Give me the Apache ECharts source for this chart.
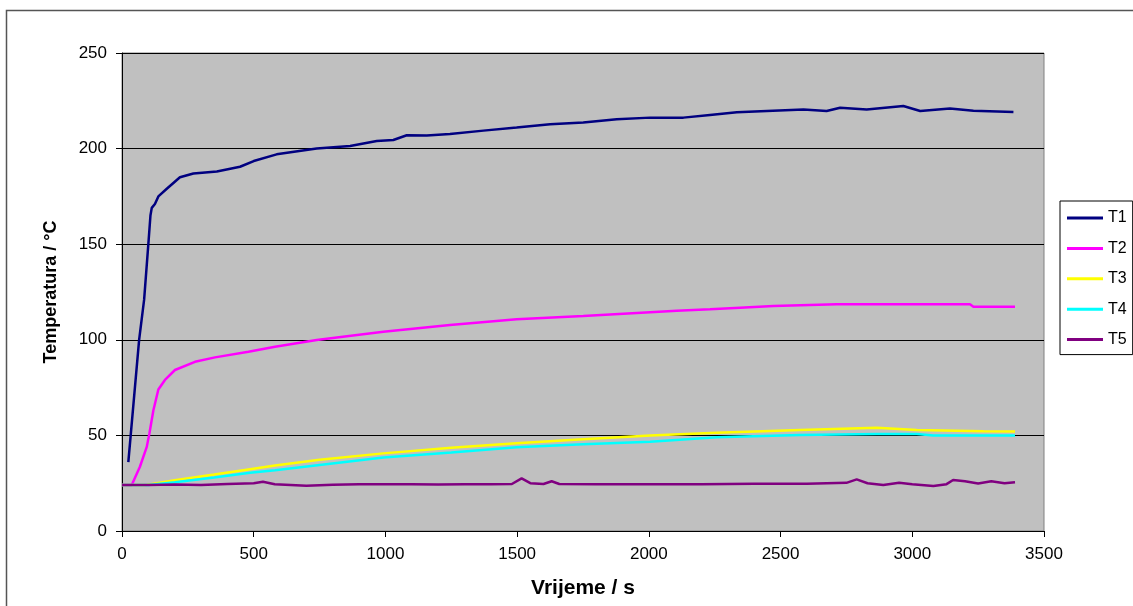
<!DOCTYPE html>
<html>
<head>
<meta charset="utf-8">
<script src="https://cdn.jsdelivr.net/npm/echarts@6/dist/echarts.min.js"></script>
<style>
html,body{margin:0;padding:0;background:#fff;}
#c{width:1133px;height:606px;}
</style>
</head>
<body>
<div id="c"></div>
<script>
var seriesNames = ['T1', 'T2', 'T3', 'T4', 'T5'];
var xTicks = [0, 500, 1000, 1500, 2000, 2500, 3000, 3500];
var yTicks = [0, 50, 100, 150, 200, 250];

var t1Time = [24, 33, 65, 84, 100, 108, 113, 125, 138, 170, 220, 271, 360, 448, 500, 587, 739, 866, 967, 1030, 1081, 1157, 1245, 1372, 1498, 1625, 1751, 1878, 2005, 2131, 2232, 2334, 2448, 2587, 2675, 2726, 2827, 2966, 3030, 3143, 3232, 3384];
var t1Temp = [36, 50, 100, 121, 150, 165, 169, 171, 175, 179, 185, 187, 188, 190.5, 193.5, 197, 200, 201.4, 204, 204.5, 207, 206.8, 207.6, 209.4, 211, 212.7, 213.6, 215.3, 216.2, 216.2, 217.6, 219, 219.7, 220.5, 219.7, 221.4, 220.5, 222.3, 219.7, 221, 219.8, 219.1];

var t2Time = [0, 37, 68, 94, 104, 119, 138, 163, 201, 277, 353, 480, 581, 739, 992, 1245, 1498, 1751, 2005, 2106, 2232, 2346, 2473, 2713, 3219, 3232, 3390];
var t2Temp = [24, 24, 33.6, 44, 51, 63, 74, 79, 84.2, 88.5, 90.8, 93.8, 96.4, 99.9, 104.2, 107.7, 110.7, 112.4, 114.4, 115.2, 116, 116.8, 117.7, 118.6, 118.6, 117.3, 117.3];

var t3Time = [0, 87, 200, 350, 486, 581, 750, 992, 1250, 1498, 1750, 2005, 2258, 2574, 2865, 3017, 3270, 3390];
var t3Temp = [24, 24, 26.5, 29.5, 32.3, 34.2, 37.3, 40.6, 43.5, 45.9, 48, 50, 51.4, 52.8, 54, 52.8, 52.2, 52];

var t4Time = [0, 100, 200, 350, 486, 581, 750, 992, 1250, 1498, 1750, 2005, 2258, 2574, 2865, 3017, 3080, 3390];
var t4Temp = [24, 24, 25.5, 28, 30.5, 31.8, 34.5, 38.4, 41, 43.8, 45.4, 46.7, 49, 50.2, 50.7, 50.7, 49.9, 49.9];

var t5Time = [0, 100, 200, 300, 400, 500, 535, 580, 700, 800, 900, 1000, 1100, 1200, 1300, 1400, 1480, 1517, 1550, 1600, 1631, 1660, 1800, 2000, 2200, 2400, 2600, 2750, 2789, 2830, 2890, 2950, 3000, 3080, 3130, 3155, 3200, 3250, 3300, 3350, 3390];
var t5Temp = [24, 24, 24.3, 24.1, 24.6, 25, 25.8, 24.5, 23.7, 24.2, 24.4, 24.5, 24.5, 24.3, 24.5, 24.5, 24.6, 27.5, 25, 24.6, 26, 24.6, 24.5, 24.5, 24.5, 24.7, 24.7, 25.2, 27, 25, 24, 25.2, 24.5, 23.5, 24.5, 26.7, 26, 24.8, 26, 25, 25.5];

var times = [t1Time, t2Time, t3Time, t4Time, t5Time];
var temps = [t1Temp, t2Temp, t3Temp, t4Temp, t5Temp];
var colors = ['#000080', '#ff00ff', '#ffff00', '#00ffff', '#800080'];

function zip(a, b) { return a.map(function (v, i) { return [v, b[i]]; }); }

var chart = echarts.init(document.getElementById('c'), null, { renderer: 'canvas' });
var font = 'Arial, "Liberation Sans", sans-serif';

chart.setOption({
  backgroundColor: '#ffffff',
  animation: false,
  color: colors,
  graphic: [{
    type: 'rect',
    shape: { x: 6.5, y: 10.5, width: 1300, height: 800 },
    style: { fill: null, stroke: '#555555', lineWidth: 1.5 },
    silent: true
  }],
  grid: {
    left: 122, top: 53, right: 89, bottom: 75,
    show: true, backgroundColor: '#c0c0c0', borderColor: '#808080', borderWidth: 1
  },
  legend: {
    orient: 'vertical',
    left: 1060, top: 201,
    data: seriesNames,
    icon: 'rect',
    itemWidth: 36, itemHeight: 3,
    itemGap: 14.4,
    padding: [9, 6, 7, 7],
    backgroundColor: '#ffffff',
    borderColor: '#000000', borderWidth: 1,
    textStyle: { fontFamily: font, fontSize: 16, color: '#000' }
  },
  xAxis: {
    type: 'value', min: 0, max: 3500, interval: 500,
    name: 'Vrijeme / s', nameLocation: 'middle', nameGap: 47,
    nameTextStyle: { fontFamily: font, fontSize: 21, fontWeight: 'bold', color: '#000' },
    axisLine: { show: true, lineStyle: { color: '#000', width: 1 } },
    axisTick: { show: true, length: 6, lineStyle: { color: '#000' } },
    axisLabel: { margin: 15, fontFamily: font, fontSize: 17, color: '#000',
      formatter: function (v) { return xTicks.indexOf(v) >= 0 ? String(v) : ''; } },
    splitLine: { show: false }
  },
  yAxis: {
    type: 'value', min: 0, max: 250, interval: 50,
    name: 'Temperatura / °C', nameLocation: 'middle', nameGap: 62,
    nameTextStyle: { fontFamily: font, fontSize: 18, fontWeight: 'bold', color: '#000' },
    axisLine: { show: true, lineStyle: { color: '#000', width: 1 } },
    axisTick: { show: true, length: 6, lineStyle: { color: '#000' } },
    axisLabel: { margin: 15, fontFamily: font, fontSize: 17, color: '#000',
      formatter: function (v) { return yTicks.indexOf(v) >= 0 ? String(v) : ''; } },
    splitLine: { show: true, lineStyle: { color: '#000', width: 1 } }
  },
  series: seriesNames.map(function (n, i) {
    return {
      name: n, type: 'line', symbol: 'none', smooth: false,
      lineStyle: { color: colors[i], width: 2.5 },
      itemStyle: { color: colors[i] },
      data: zip(times[i], temps[i])
    };
  })
});
</script>
</body>
</html>
